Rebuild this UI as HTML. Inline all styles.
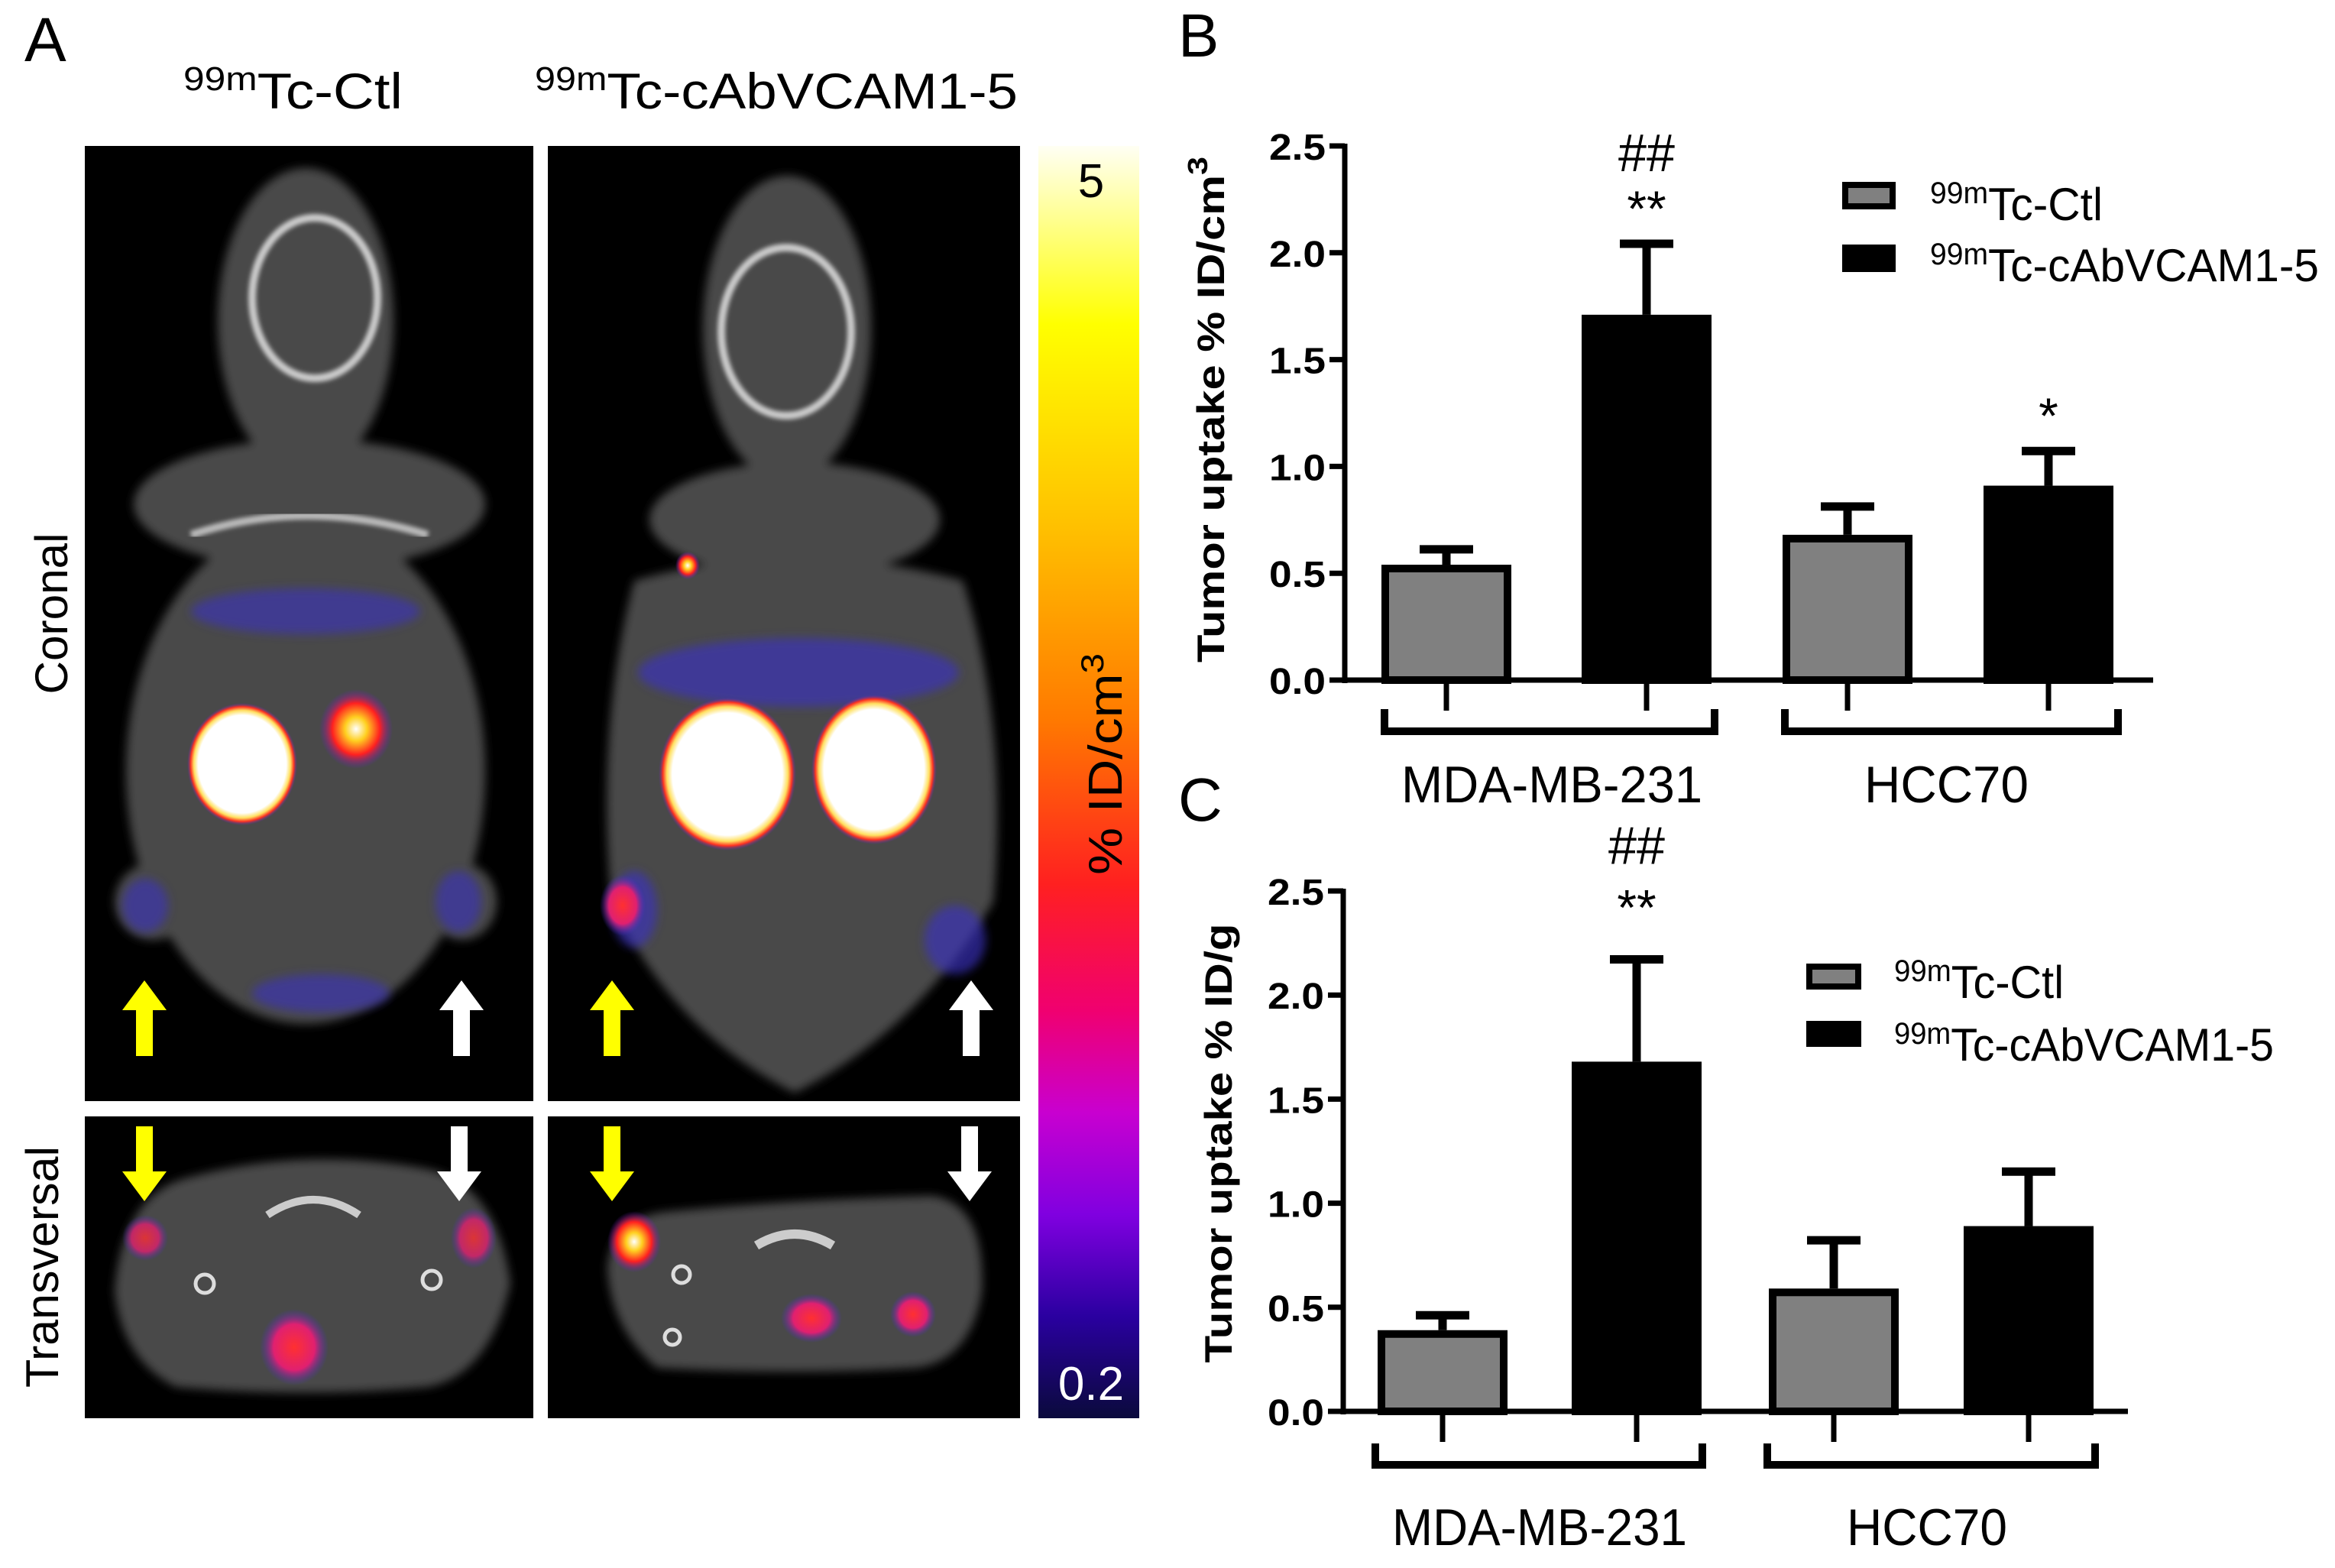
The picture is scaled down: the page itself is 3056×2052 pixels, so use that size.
<!DOCTYPE html>
<html><head><meta charset="utf-8">
<style>
html,body{margin:0;padding:0;background:#fff;}
svg{display:block;font-family:"Liberation Sans",sans-serif;}
</style></head>
<body>
<svg id="fig" width="3056" height="2052" viewBox="0 0 3056 2052" xmlns="http://www.w3.org/2000/svg">
<defs>
<linearGradient id="cbar" x1="0" y1="0" x2="0" y2="1">
<stop offset="0" stop-color="#fffff4"/>
<stop offset="0.14" stop-color="#ffff00"/>
<stop offset="0.3" stop-color="#ffc000"/>
<stop offset="0.45" stop-color="#ff7a00"/>
<stop offset="0.58" stop-color="#ff2020"/>
<stop offset="0.68" stop-color="#f00070"/>
<stop offset="0.76" stop-color="#c800d0"/>
<stop offset="0.84" stop-color="#8000e0"/>
<stop offset="0.92" stop-color="#2a00a0"/>
<stop offset="1" stop-color="#0a0a3c"/>
</linearGradient>
<filter id="blur6"><feGaussianBlur stdDeviation="6"/></filter>
<filter id="blur3"><feGaussianBlur stdDeviation="3"/></filter>
<radialGradient id="kid" cx="0.5" cy="0.5" r="0.5">
<stop offset="0.8" stop-color="#ffffff"/>
<stop offset="0.88" stop-color="#ffe060"/>
<stop offset="0.94" stop-color="#ff3020"/>
<stop offset="1" stop-color="#5030c0" stop-opacity="0"/>
</radialGradient>
<radialGradient id="hot" cx="0.5" cy="0.5" r="0.5">
<stop offset="0" stop-color="#ffffff"/>
<stop offset="0.3" stop-color="#ffd020"/>
<stop offset="0.65" stop-color="#ff2020"/>
<stop offset="1" stop-color="#6020d0" stop-opacity="0"/>
</radialGradient>
<radialGradient id="redspot" cx="0.5" cy="0.5" r="0.5">
<stop offset="0" stop-color="#ff3030"/>
<stop offset="0.6" stop-color="#e02070"/>
<stop offset="1" stop-color="#4030d0" stop-opacity="0"/>
</radialGradient>
</defs>

<g>
<text x="32" y="80" font-size="82">A</text>
<text x="240" y="142" font-size="66" textLength="287" lengthAdjust="spacingAndGlyphs"><tspan font-size="44" dy="-24">99m</tspan><tspan dy="24">Tc-Ctl</tspan></text>
<text x="700" y="142" font-size="66" textLength="632" lengthAdjust="spacingAndGlyphs"><tspan font-size="44" dy="-24">99m</tspan><tspan dy="24">Tc-cAbVCAM1-5</tspan></text>
<text transform="translate(88,803) rotate(-90)" text-anchor="middle" font-size="60" textLength="211" lengthAdjust="spacingAndGlyphs">Coronal</text>
<text transform="translate(76,1658) rotate(-90)" text-anchor="middle" font-size="60" textLength="316" lengthAdjust="spacingAndGlyphs">Transversal</text>

<g>
<rect x="111" y="191" width="587" height="1250" fill="#000"/>
<g filter="url(#blur6)" fill="#4a4a4a">
<ellipse cx="400" cy="420" rx="115" ry="200"/>
<ellipse cx="405" cy="660" rx="230" ry="85"/>
<ellipse cx="400" cy="1010" rx="235" ry="330"/>
<ellipse cx="200" cy="1180" rx="50" ry="50"/>
<ellipse cx="605" cy="1180" rx="45" ry="50"/>
</g>
<ellipse cx="412" cy="390" rx="82" ry="105" fill="none" stroke="#ccc" stroke-width="10" filter="url(#blur3)"/>
<path d="M250 700 Q400 650 560 700" fill="none" stroke="#bbb" stroke-width="10" filter="url(#blur3)"/>
<g filter="url(#blur6)" fill="#3a30c0" opacity="0.6"><ellipse cx="400" cy="800" rx="150" ry="30"/><ellipse cx="190" cy="1185" rx="30" ry="35"/><ellipse cx="600" cy="1180" rx="30" ry="40"/><ellipse cx="420" cy="1300" rx="90" ry="25"/></g>
<ellipse cx="317" cy="1000" rx="72" ry="80" fill="url(#kid)"/>
<ellipse cx="466" cy="954" rx="48" ry="52" fill="url(#hot)"/>
<path d="M400 1170 L400 1330" stroke="#aaa" stroke-width="14" filter="url(#blur3)"/>
<path d="M189 1283 L160 1322 L178 1322 L178 1382 L200 1382 L200 1322 L218 1322 Z" fill="#ffff00"/>
<path d="M604 1283 L575 1322 L593 1322 L593 1382 L615 1382 L615 1322 L633 1322 Z" fill="#fff"/>
</g>
<g>
<rect x="717" y="191" width="618" height="1250" fill="#000"/>
<g filter="url(#blur6)" fill="#4a4a4a">
<ellipse cx="1030" cy="430" rx="110" ry="200"/>
<ellipse cx="1040" cy="680" rx="190" ry="75"/>
<path d="M830 760 Q1040 700 1260 760 Q1320 950 1300 1180 Q1200 1350 1040 1430 Q880 1350 800 1180 Q780 950 830 760 Z"/>
</g>
<ellipse cx="1029" cy="434" rx="85" ry="110" fill="none" stroke="#ccc" stroke-width="10" filter="url(#blur3)"/>
<g filter="url(#blur6)" fill="#3a30c0" opacity="0.65"><ellipse cx="1045" cy="880" rx="210" ry="45"/><ellipse cx="830" cy="1190" rx="30" ry="50"/><ellipse cx="1250" cy="1230" rx="40" ry="45"/></g>
<ellipse cx="952" cy="1013" rx="90" ry="100" fill="url(#kid)"/>
<ellipse cx="1144" cy="1007" rx="82" ry="98" fill="url(#kid)"/>
<ellipse cx="900" cy="740" rx="16" ry="18" fill="url(#hot)"/>
<ellipse cx="815" cy="1185" rx="30" ry="40" fill="url(#redspot)"/>
<path d="M1040 1130 L1040 1400" stroke="#bbb" stroke-width="22" filter="url(#blur3)"/>
<path d="M801 1283 L772 1322 L790 1322 L790 1382 L812 1382 L812 1322 L830 1322 Z" fill="#ffff00"/>
<path d="M1271 1283 L1242 1322 L1260 1322 L1260 1382 L1282 1382 L1282 1322 L1300 1322 Z" fill="#fff"/>
</g>
<g>
<rect x="111" y="1461" width="587" height="395" fill="#000"/>
<path d="M150 1690 Q160 1560 250 1540 Q400 1500 560 1530 Q650 1550 668 1680 Q640 1800 560 1815 Q400 1830 230 1815 Q160 1780 150 1690 Z" fill="#4a4a4a" filter="url(#blur6)"/>
<path d="M350 1590 Q410 1550 470 1590" fill="none" stroke="#ccc" stroke-width="10"/>
<circle cx="268" cy="1680" r="12" fill="none" stroke="#ddd" stroke-width="5"/>
<circle cx="565" cy="1675" r="12" fill="none" stroke="#ddd" stroke-width="5"/>
<ellipse cx="385" cy="1763" rx="45" ry="50" fill="url(#redspot)"/>
<ellipse cx="190" cy="1620" rx="30" ry="30" fill="url(#redspot)" opacity="0.8"/>
<ellipse cx="620" cy="1620" rx="30" ry="40" fill="url(#redspot)" opacity="0.8"/>
<path d="M189 1572 L160 1533 L178 1533 L178 1474 L200 1474 L200 1533 L218 1533 Z" fill="#ffff00"/>
<path d="M601 1572 L572 1533 L590 1533 L590 1474 L612 1474 L612 1533 L630 1533 Z" fill="#fff"/>
</g>
<g>
<rect x="717" y="1461" width="618" height="395" fill="#000"/>
<path d="M795 1660 Q800 1590 880 1585 Q1040 1570 1220 1565 Q1290 1575 1285 1690 Q1270 1780 1200 1790 Q1040 1800 860 1790 Q800 1740 795 1660 Z" fill="#4a4a4a" filter="url(#blur6)"/>
<path d="M990 1630 Q1040 1600 1090 1630" fill="none" stroke="#ccc" stroke-width="12"/>
<circle cx="892" cy="1668" r="11" fill="none" stroke="#ddd" stroke-width="5"/>
<circle cx="880" cy="1750" r="10" fill="none" stroke="#ddd" stroke-width="5"/>
<ellipse cx="1062" cy="1725" rx="40" ry="32" fill="url(#redspot)"/>
<ellipse cx="830" cy="1625" rx="35" ry="40" fill="url(#hot)"/>
<ellipse cx="1195" cy="1720" rx="30" ry="30" fill="url(#redspot)"/>
<path d="M801 1572 L772 1533 L790 1533 L790 1474 L812 1474 L812 1533 L830 1533 Z" fill="#ffff00"/>
<path d="M1269 1572 L1240 1533 L1258 1533 L1258 1474 L1280 1474 L1280 1533 L1298 1533 Z" fill="#fff"/>
</g>
<g>
<rect x="1359" y="191" width="132" height="1665" fill="url(#cbar)"/>
<text x="1428" y="258" text-anchor="middle" font-size="62">5</text>
<text x="1428" y="1832" text-anchor="middle" font-size="62" fill="#fff">0.2</text>
<text transform="translate(1468,1000) rotate(-90)" text-anchor="middle" font-size="62" textLength="290" lengthAdjust="spacingAndGlyphs">% ID/cm<tspan font-size="42" dy="-24">3</tspan></text>
</g>
</g>

<text x="1542" y="74" font-size="80">B</text>
<text x="1542" y="1074" font-size="80">C</text>
<g id="chartB"></g>
<g id="chartC"></g>
</svg>
<script>
const categories = ["MDA-MB-231", "HCC70"];
const seriesNames = ["Tc-Ctl", "Tc-cAbVCAM1-5"];
const tickLabels = ["0.0", "0.5", "1.0", "1.5", "2.0", "2.5"];
const tickValues = [0, 0.5, 1.0, 1.5, 2.0, 2.5];
const bMeans = [0.54, 1.71, 0.68, 0.91];
const bErrors = [0.09, 0.35, 0.15, 0.18];
const bMarks = ["", "**", "", "*"];
const bHash = ["", "##", "", ""];
const cMeans = [0.39, 1.68, 0.59, 0.89];
const cErrors = [0.09, 0.51, 0.25, 0.28];
const cMarks = ["", "**", "", ""];
const cHash = ["", "##", "", ""];

const NS = "http://www.w3.org/2000/svg";
function mk(parent, tag, attrs, text) {
  const el = document.createElementNS(NS, tag);
  for (const k in attrs) el.setAttribute(k, attrs[k]);
  if (text !== undefined) el.textContent = text;
  parent.appendChild(el);
  return el;
}

function drawChart(g, cfg, means, errors, marks, hashes) {
  const y = v => cfg.y0 - (v / 2.5) * (cfg.y0 - cfg.yTop);
  means.forEach((m, i) => {
    const x0 = cfg.barX[i], w = cfg.barW;
    const cx = x0 + w / 2;
    const top = y(m);
    const eTop = y(m + errors[i]);
    const err = mk(g, "line", {x1: cx, x2: cx, y1: top, y2: eTop, stroke: "#000", "stroke-width": 11});
    
    
    const cap = mk(g, "line", {x1: cx - 35, x2: cx + 35, y1: eTop + 5, y2: eTop + 5, stroke: "#000", "stroke-width": 11});
    
    
    const isCtl = i % 2 === 0;
    const bar = mk(g, "rect", {x: x0 + 5, y: top + 5, width: w - 10, height: cfg.y0 - top - 5, fill: isCtl ? "#808080" : "#000", stroke: "#000", "stroke-width": 10});
    
    
    const tk = mk(g, "line", {x1: cx, x2: cx, y1: cfg.y0, y2: cfg.y0 + 40, stroke: "#000", "stroke-width": 7});
    
    
    if (marks[i]) {
      const s = mk(g, "text", {x: cx, y: eTop - cfg.starGap, "text-anchor": "middle", "font-size": 66}, marks[i]);
      
      
    }
    if (hashes[i]) {
      const h = mk(g, "text", {x: cx, y: eTop - cfg.hashGap, "text-anchor": "middle", "font-size": 70, textLength: 74, lengthAdjust: "spacingAndGlyphs"}, hashes[i]);
      
      
    }
  });
  const ya = mk(g, "line", {x1: cfg.ax, x2: cfg.ax, y1: cfg.yTop - 3, y2: cfg.y0 + 4, stroke: "#000", "stroke-width": 7});
  
  
  const xa = mk(g, "line", {x1: cfg.ax - 20, x2: cfg.xEnd, y1: cfg.y0, y2: cfg.y0, stroke: "#000", "stroke-width": 7});
  
  
  tickValues.forEach((v, i) => {
    const t = mk(g, "line", {x1: cfg.ax - 20, x2: cfg.ax, y1: y(v), y2: y(v), stroke: "#000", "stroke-width": 7});
    
    
    const l = mk(g, "text", {x: cfg.ax - 25, y: y(v) + 18, "text-anchor": "end", "font-size": 48, "font-weight": "bold", textLength: 74, lengthAdjust: "spacingAndGlyphs"}, tickLabels[i]);
    
    
  });
  categories.forEach((c, k) => {
    const [bx1, bx2] = cfg.brX[k];
    const br = mk(g, "path", {d: `M${bx1} ${cfg.brTop} L${bx1} ${cfg.brBot} L${bx2} ${cfg.brBot} L${bx2} ${cfg.brTop}`, fill: "none", stroke: "#000", "stroke-width": 10});
    
    
    const [lx1, lx2] = cfg.labX[k];
    const t = mk(g, "text", {x: lx1, y: cfg.labY, "font-size": 68, textLength: lx2 - lx1, lengthAdjust: "spacingAndGlyphs"}, c);
    
    
  });
  seriesNames.forEach((s, k) => {
    const r = mk(g, "rect", {x: cfg.legX + 4, y: cfg.legBoxY[k] + 4, width: cfg.legW - 8, height: cfg.legH - 8, fill: k === 0 ? "#808080" : "#000", stroke: "#000", "stroke-width": 8});
    
    
    const t = mk(g, "text", {x: cfg.legTX, y: cfg.legTY[k], "font-size": 60, textLength: cfg.legTW[k], lengthAdjust: "spacingAndGlyphs"});
    
    
    mk(t, "tspan", {"font-size": 40, dy: -22}, "99m");
    mk(t, "tspan", {dy: 22}, s);
  });
  const yt = mk(g, "text", {transform: `translate(${cfg.ytX},${cfg.ytY}) rotate(-90)`, "text-anchor": "middle", "font-size": 50, "font-weight": "bold", textLength: cfg.ytLen, lengthAdjust: "spacingAndGlyphs"});
  
  
  mk(yt, "tspan", {}, cfg.ytText);
  if (cfg.ytSup) mk(yt, "tspan", {"font-size": 36, dy: -22}, cfg.ytSup);
}

drawChart(document.getElementById("chartB"), {
  ax: 1760, y0: 890, yTop: 191, xEnd: 2818,
  barX: [1808, 2070, 2333, 2596], barW: 170,
  starGap: 18, hashGap: 90,
  brTop: 928, brBot: 957, brX: [[1812, 2244], [2336, 2772]],
  labX: [[1834, 2228], [2440, 2655]], labY: 1050,
  legX: 2411, legW: 70, legH: 36, legBoxY: [238, 320],
  legTX: 2526, legTY: [288, 368], legTW: [226, 509],
  ytX: 1602, ytY: 536, ytLen: 662, ytText: "Tumor uptake  % ID/cm", ytSup: "3"
}, bMeans, bErrors, bMarks, bHash);

drawChart(document.getElementById("chartC"), {
  ax: 1758, y0: 1847, yTop: 1166, xEnd: 2785,
  barX: [1803, 2057, 2315, 2570], barW: 170,
  starGap: 40, hashGap: 120,
  brTop: 1889, brBot: 1917, brX: [[1800, 2228], [2313, 2742]],
  labX: [[1822, 2208], [2417, 2627]], labY: 2022,
  legX: 2364, legW: 72, legH: 34, legBoxY: [1261, 1336],
  legTX: 2479, legTY: [1306, 1388], legTW: [222, 497],
  ytX: 1612, ytY: 1496, ytLen: 575, ytText: "Tumor uptake % ID/g", ytSup: ""
}, cMeans, cErrors, cMarks, cHash);
</script>
</body></html>
